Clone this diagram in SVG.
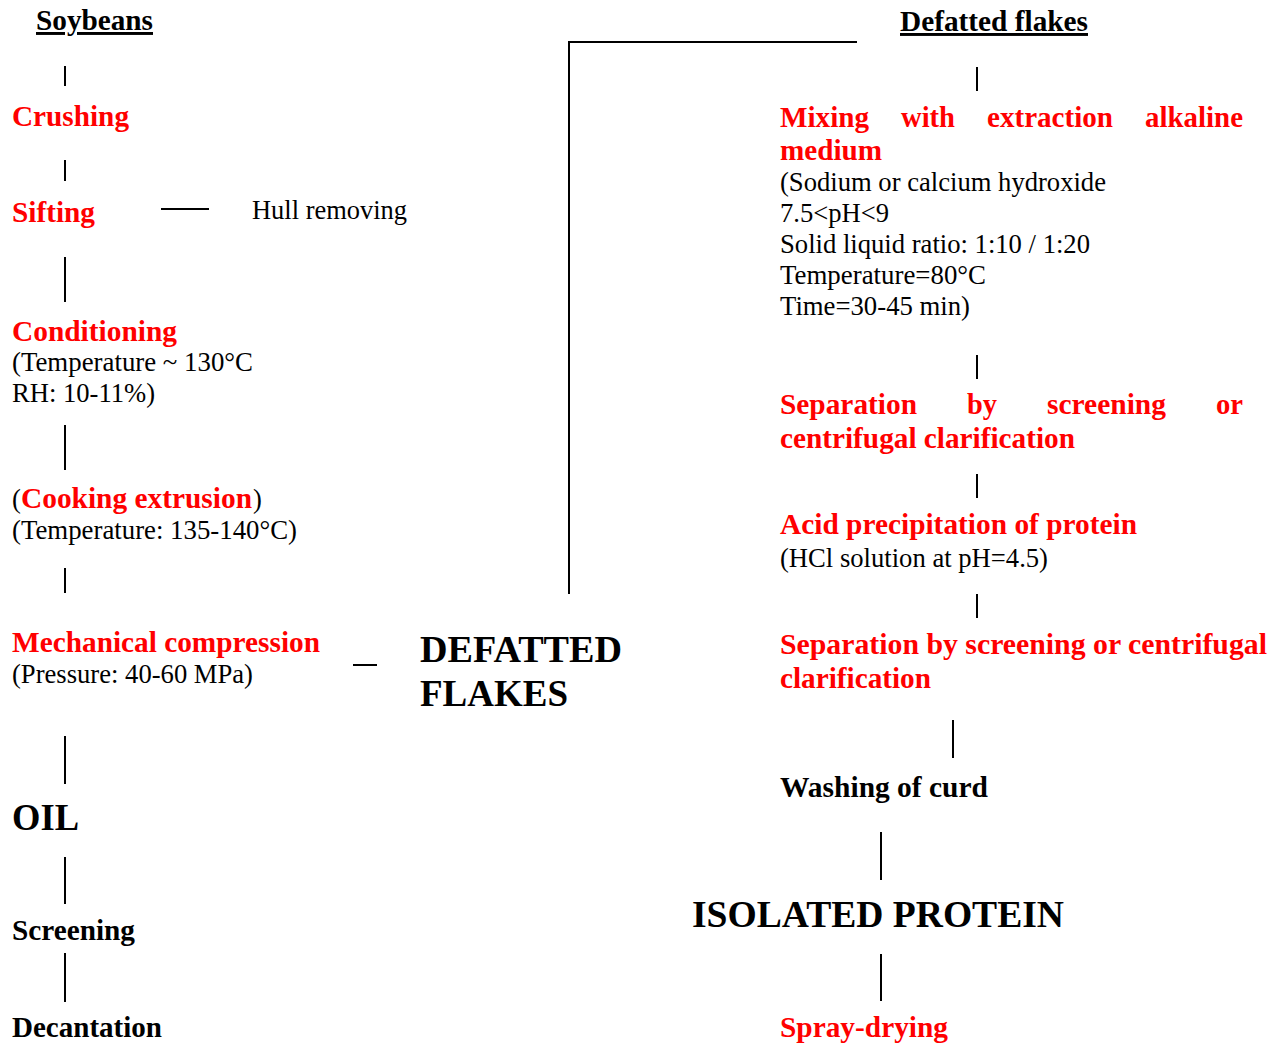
<svg xmlns="http://www.w3.org/2000/svg" width="1284" height="1045" viewBox="0 0 1284 1045">
  <style>
    text { font-family: "Liberation Serif", "Times New Roman", serif; }
    .step { font-size: 29.3px; font-weight: bold; fill: #ff0000; }
    .head { font-size: 29.3px; font-weight: bold; fill: #000000; }
    .note { font-size: 26.6px; fill: #000000; }
    .big  { font-size: 38px; font-weight: bold; fill: #000000; }
    .ul   { text-decoration: underline; }
    .link { stroke: #000000; stroke-width: 2; fill: none; }
  </style>
  <rect width="1284" height="1045" fill="#ffffff"/>

  <!-- connectors -->
  <g id="connectors">
    <!-- soybean oil branch -->
    <line class="link" x1="65" y1="66" x2="65" y2="86"/>
    <line class="link" x1="65" y1="160" x2="65" y2="181"/>
    <line class="link" x1="161" y1="209" x2="209" y2="209"/>
    <line class="link" x1="65" y1="257" x2="65" y2="302"/>
    <line class="link" x1="65" y1="425" x2="65" y2="470"/>
    <line class="link" x1="65" y1="568" x2="65" y2="593"/>
    <line class="link" x1="353" y1="665" x2="377" y2="665"/>
    <line class="link" x1="65" y1="736" x2="65" y2="784"/>
    <line class="link" x1="65" y1="857" x2="65" y2="904"/>
    <line class="link" x1="65" y1="953" x2="65" y2="1002"/>
    <!-- defatted flakes carried over to the protein branch -->
    <polyline class="link" points="569,594 569,42 857,42"/>
    <!-- protein branch -->
    <line class="link" x1="977" y1="67" x2="977" y2="91"/>
    <line class="link" x1="977" y1="355" x2="977" y2="379"/>
    <line class="link" x1="977" y1="474" x2="977" y2="498"/>
    <line class="link" x1="977" y1="594" x2="977" y2="618"/>
    <line class="link" x1="953" y1="720" x2="953" y2="758"/>
    <line class="link" x1="881" y1="832" x2="881" y2="880"/>
    <line class="link" x1="881" y1="954" x2="881" y2="1001"/>
  </g>

  <!-- left column: oil extraction -->
  <g id="soybeans">
    <text class="head ul" x="36" y="30" textLength="117" lengthAdjust="spacingAndGlyphs">Soybeans</text>
  </g>
  <g id="crushing">
    <text class="step" x="12" y="126" textLength="117" lengthAdjust="spacingAndGlyphs">Crushing</text>
  </g>
  <g id="sifting">
    <text class="step" x="12" y="222" textLength="83" lengthAdjust="spacingAndGlyphs">Sifting</text>
  </g>
  <g id="hull-removing">
    <text class="note" x="252" y="219" textLength="155" lengthAdjust="spacingAndGlyphs">Hull removing</text>
  </g>
  <g id="conditioning">
    <text class="step" x="12" y="341" textLength="165" lengthAdjust="spacingAndGlyphs">Conditioning</text>
    <text class="note" x="12" y="371" textLength="241" lengthAdjust="spacingAndGlyphs">(Temperature ~ 130°C</text>
    <text class="note" x="12" y="402" textLength="143" lengthAdjust="spacingAndGlyphs">RH: 10-11%)</text>
  </g>
  <g id="cooking-extrusion">
    <text class="note" x="12" y="508">(</text>
    <text class="step" x="21" y="508" textLength="231" lengthAdjust="spacingAndGlyphs">Cooking extrusion</text>
    <text class="note" x="253" y="508">)</text>
    <text class="note" x="12" y="539" textLength="285" lengthAdjust="spacingAndGlyphs">(Temperature: 135-140°C)</text>
  </g>
  <g id="mechanical-compression">
    <text class="step" x="12" y="652" textLength="308" lengthAdjust="spacingAndGlyphs">Mechanical compression</text>
    <text class="note" x="12" y="683" textLength="241" lengthAdjust="spacingAndGlyphs">(Pressure: 40-60 MPa)</text>
  </g>
  <g id="oil">
    <text class="big" x="12" y="830" textLength="67" lengthAdjust="spacingAndGlyphs">OIL</text>
  </g>
  <g id="screening">
    <text class="head" x="12" y="940" textLength="123" lengthAdjust="spacingAndGlyphs">Screening</text>
  </g>
  <g id="decantation">
    <text class="head" x="12" y="1037" textLength="150" lengthAdjust="spacingAndGlyphs">Decantation</text>
  </g>

  <!-- centre: by-product of pressing -->
  <g id="defatted-flakes-product">
    <text class="big" x="420" y="662" textLength="202" lengthAdjust="spacingAndGlyphs">DEFATTED</text>
    <text class="big" x="420" y="706" textLength="148" lengthAdjust="spacingAndGlyphs">FLAKES</text>
  </g>

  <!-- right column: protein isolation -->
  <g id="defatted-flakes">
    <text class="head ul" x="900" y="31" textLength="188" lengthAdjust="spacingAndGlyphs">Defatted flakes</text>
  </g>
  <g id="alkaline-extraction">
    <text class="step" x="780" y="127" textLength="89" lengthAdjust="spacingAndGlyphs">Mixing</text>
    <text class="step" x="901" y="127" textLength="54" lengthAdjust="spacingAndGlyphs">with</text>
    <text class="step" x="987" y="127" textLength="126" lengthAdjust="spacingAndGlyphs">extraction</text>
    <text class="step" x="1145" y="127" textLength="98" lengthAdjust="spacingAndGlyphs">alkaline</text>
    <text class="step" x="780" y="160" textLength="102" lengthAdjust="spacingAndGlyphs">medium</text>
    <text class="note" x="780" y="191" textLength="326" lengthAdjust="spacingAndGlyphs">(Sodium or calcium hydroxide</text>
    <text class="note" x="780" y="222" textLength="109" lengthAdjust="spacingAndGlyphs">7.5&lt;pH&lt;9</text>
    <text class="note" x="780" y="253" textLength="310" lengthAdjust="spacingAndGlyphs">Solid liquid ratio: 1:10 / 1:20</text>
    <text class="note" x="780" y="284" textLength="206" lengthAdjust="spacingAndGlyphs">Temperature=80°C</text>
    <text class="note" x="780" y="315" textLength="190" lengthAdjust="spacingAndGlyphs">Time=30-45 min)</text>
  </g>
  <g id="separation-1">
    <text class="step" x="780" y="414" textLength="137" lengthAdjust="spacingAndGlyphs">Separation</text>
    <text class="step" x="967" y="414" textLength="30" lengthAdjust="spacingAndGlyphs">by</text>
    <text class="step" x="1047" y="414" textLength="119" lengthAdjust="spacingAndGlyphs">screening</text>
    <text class="step" x="1216" y="414" textLength="27" lengthAdjust="spacingAndGlyphs">or</text>
    <text class="step" x="780" y="448" textLength="295" lengthAdjust="spacingAndGlyphs">centrifugal clarification</text>
  </g>
  <g id="acid-precipitation">
    <text class="step" x="780" y="534" textLength="357" lengthAdjust="spacingAndGlyphs">Acid precipitation of protein</text>
    <text class="note" x="780" y="567" textLength="268" lengthAdjust="spacingAndGlyphs">(HCl solution at pH=4.5)</text>
  </g>
  <g id="separation-2">
    <text class="step" x="780" y="654" textLength="487" lengthAdjust="spacingAndGlyphs">Separation by screening or centrifugal</text>
    <text class="step" x="780" y="688" textLength="151" lengthAdjust="spacingAndGlyphs">clarification</text>
  </g>
  <g id="washing">
    <text class="head" x="780" y="797" textLength="208" lengthAdjust="spacingAndGlyphs">Washing of curd</text>
  </g>
  <g id="isolated-protein">
    <text class="big" x="692" y="927" textLength="372" lengthAdjust="spacingAndGlyphs">ISOLATED PROTEIN</text>
  </g>
  <g id="spray-drying">
    <text class="step" x="780" y="1037" textLength="168" lengthAdjust="spacingAndGlyphs">Spray-drying</text>
  </g>
</svg>
